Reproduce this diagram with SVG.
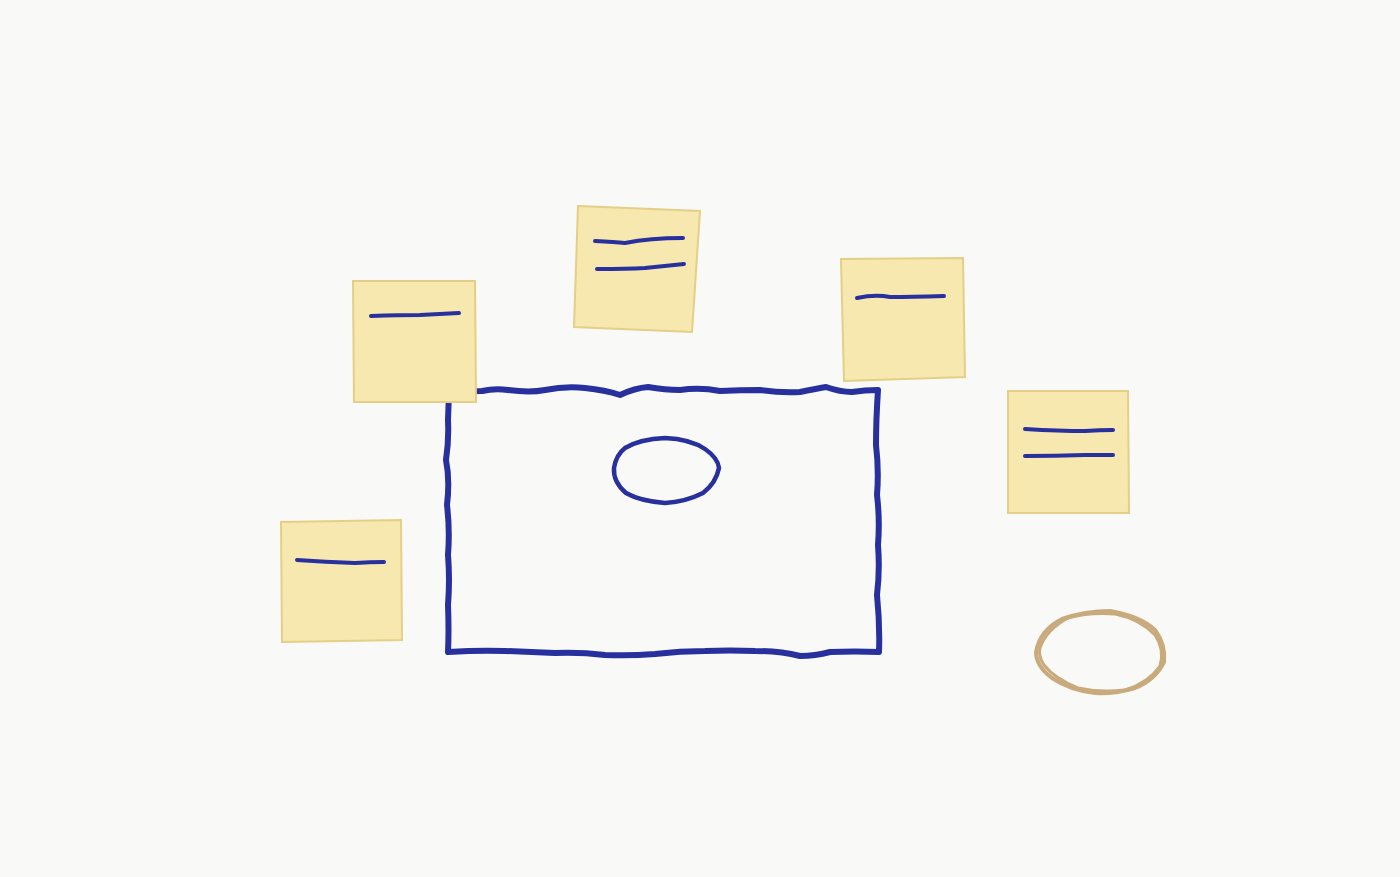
<svg xmlns="http://www.w3.org/2000/svg" width="1400" height="877" viewBox="0 0 1400 877">
<style>
.ink{fill:none;stroke:#27309c;stroke-linecap:round;stroke-linejoin:round}
.note{fill:#f7e8b0;stroke:#e3cf86;stroke-width:2}
.tan{fill:none;stroke:#c9aa7c;stroke-linecap:round;stroke-linejoin:round}
</style>
<rect width="1400" height="877" fill="#f9f9f7"/>
<g id="board">
<path class="ink" stroke-width="6" d="M449,392 Q470,391 482,391 Q495,388 508,390 Q530,393 545,390 Q565,386 585,388 Q605,390 620,395 Q635,388 648,387 Q665,390 680,390 Q700,387 720,391 Q740,390 760,390 Q780,393 800,392 Q815,389 826,387 Q840,392 852,392 Q865,390 878,390 Q876,420 876,445 Q879,470 877,495 Q880,520 878,545 Q880,570 877,595 Q880,625 879,652 Q855,651 830,652 Q815,656 800,656 Q780,651 755,651 Q730,650 705,651 Q680,651 655,654 Q630,656 605,655 Q580,652 555,653 Q530,652 505,651 Q480,650 448,652 Q449,630 448,605 Q450,580 448,555 Q450,530 447,505 Q450,480 446,460 Q449,440 448,420 Z"/>
<path class="ink" stroke-width="4.5" d="M614,468 Q616,455 625,448 Q640,439 665,438 Q690,439 705,449 Q718,458 719,468 Q716,483 703,493 Q685,502 665,503 Q640,501 626,493 Q613,482 614,468 Z"/>
</g>
<g id="note1">
<path class="note" d="M353,281 L475,281 L476,402 L354,402 Z"/>
<path class="ink" stroke-width="4" d="M371,316 Q400,315 420,315 Q440,314 459,313"/>
</g>
<g id="note2">
<path class="note" d="M578,206 L700,211 L692,332 L574,327 Z"/>
<path class="ink" stroke-width="4" d="M595,241 Q615,242 625,243 Q650,238 683,238"/>
<path class="ink" stroke-width="4" d="M597,269 Q627,269 645,268 Q665,266 684,264"/>
</g>
<g id="note3">
<path class="note" d="M841,259 L963,258 L965,377 L844,381 Z"/>
<path class="ink" stroke-width="4" d="M857,298 Q875,294 890,297 Q910,297 944,296"/>
</g>
<g id="note4">
<path class="note" d="M1008,391 L1128,391 L1129,513 L1008,513 Z"/>
<path class="ink" stroke-width="4" d="M1025,429 Q1060,431 1085,431 Q1100,430 1113,430"/>
<path class="ink" stroke-width="4" d="M1025,456 Q1055,456 1085,455 Q1100,455 1113,455"/>
</g>
<g id="note5">
<path class="note" d="M281,522 L401,520 L402,640 L282,642 Z"/>
<path class="ink" stroke-width="4" d="M297,560 Q325,562 355,563 Q370,562 384,562"/>
</g>
<g id="coaster">
<path class="tan" stroke-width="4" d="M1036,652 Q1040,630 1062,619 Q1085,611 1110,611 Q1140,616 1155,630 Q1166,645 1164,662 Q1155,680 1135,688 Q1115,694 1095,693 Q1070,690 1052,678 Q1036,666 1036,652 Z"/>
<path class="tan" stroke-width="3" d="M1040,648 Q1046,630 1068,618 Q1090,612 1115,614 Q1140,619 1155,635 Q1165,650 1160,666 Q1148,683 1125,690 Q1100,693 1078,688 Q1055,679 1044,665 Q1038,656 1040,648 Z"/>
</g>
</svg>
